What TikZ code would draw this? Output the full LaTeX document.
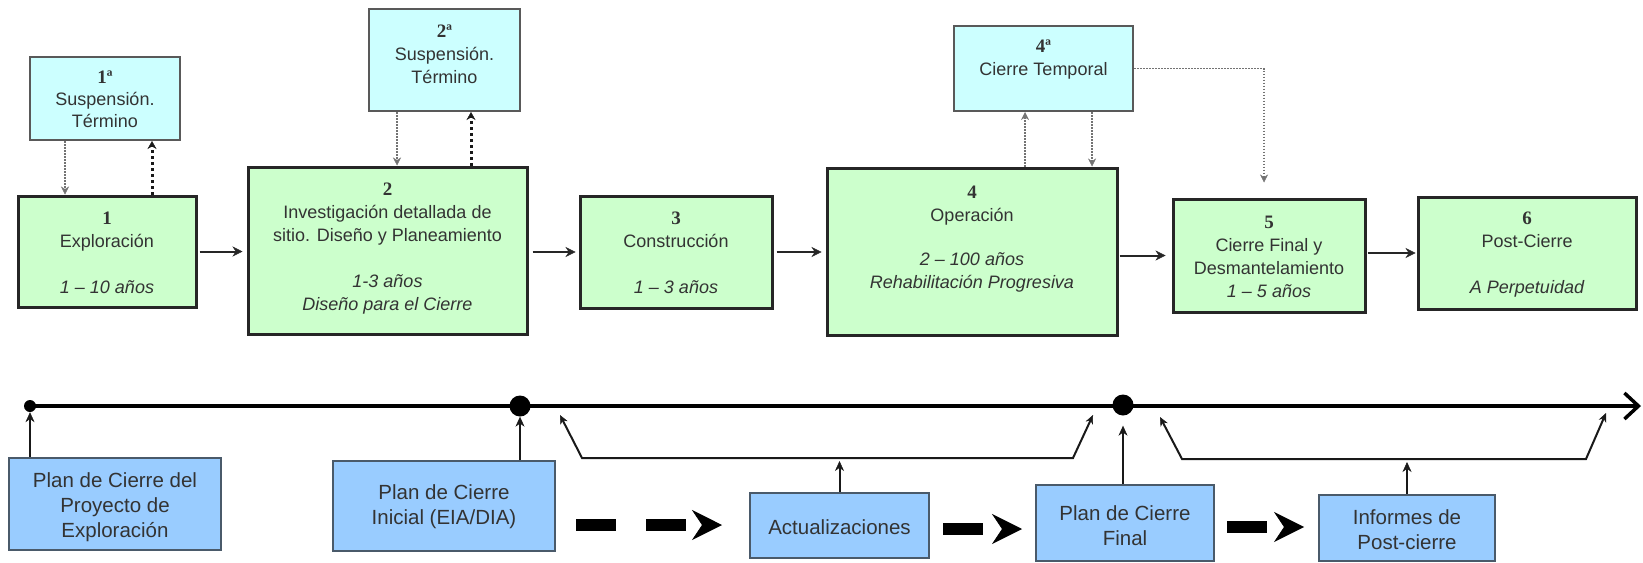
\documentclass[tikz,border=0pt]{standalone}
\usepackage{fontspec}
\setmainfont{Liberation Sans}
\newfontfamily\numfont{Liberation Serif}
\usetikzlibrary{arrows.meta}
\definecolor{gfill}{HTML}{CCFFCC}
\definecolor{cfill}{HTML}{CCFFFF}
\definecolor{bfill}{HTML}{99CCFF}
\definecolor{txtc}{HTML}{333333}
\definecolor{bdr}{HTML}{4A5A6A}
\newcommand\numlab[1]{{\numfont\bfseries\fontsize{19}{23}\selectfont #1}}
\begin{document}
\begin{tikzpicture}[x=1pt,y=-1pt,
  gbox/.style={draw=black!85,line width=3pt,fill=gfill,inner sep=0pt},
  cbox/.style={draw=black!65,line width=2pt,fill=cfill,inner sep=0pt},
  bbox/.style={draw=bdr,line width=2pt,fill=bfill,inner sep=0pt},
  ttop/.style={text=txtc,align=center,font=\fontsize{18}{23}\selectfont,inner sep=0pt},
  tbot/.style={text=txtc,align=center,font=\fontsize{20.5}{25}\selectfont,inner sep=0pt},
  arr/.style={line width=2pt,draw=black!85,-{Stealth[length=10pt,width=10pt,line width=0.5pt]}},
  dotthin/.style={line width=1.2pt,draw=black!55,dash pattern=on 1.5pt off 1.5pt,-{Stealth[length=8pt,width=8pt,line width=0.5pt]}},
  dotthick/.style={line width=3pt,draw=black!90,dash pattern=on 3pt off 3pt,-{Stealth[length=8pt,width=9pt,line width=0.5pt]}},
  uparr/.style={line width=2.5pt,draw=black!90,-{Stealth[length=10pt,width=9pt,line width=0.5pt]}},
  brk/.style={line width=2pt,draw=black!90},
  timeline/.style={line width=4pt,draw=black,-{Straight Barb[length=14pt,width=26pt,line width=3.5pt]}},
  bigd/.style={line width=12pt,draw=black,dash pattern=on 40pt off 30pt,-{Stealth[length=30pt,width=30pt,inset=10pt,line width=0.5pt]}},
  dotn/.style={circle,fill=black,inner sep=0pt}]
\useasboundingbox (0,0) rectangle (1643,562);

% top boxes
\node[cbox,minimum width=150pt,minimum height=83pt] (b1a) at (105,98.5) {};
\node[gbox,minimum width=178pt,minimum height=111pt] (b1) at (107,251.5) {};
\node[cbox,minimum width=151pt,minimum height=102pt] (b2a) at (444.5,60) {};
\node[gbox,minimum width=279pt,minimum height=167pt] (b2) at (387.5,250.5) {};
\node[gbox,minimum width=192pt,minimum height=112pt] (b3) at (676,252) {};
\node[gbox,minimum width=290pt,minimum height=167pt] (b4) at (972,251.5) {};
\node[cbox,minimum width=179pt,minimum height=85pt] (b4a) at (1043.5,68.5) {};
\node[gbox,minimum width=192pt,minimum height=113pt] (b5) at (1269,255.5) {};
\node[gbox,minimum width=218pt,minimum height=112pt] (b6) at (1527,253) {};

\node[ttop,font=\fontsize{18}{22}\selectfont] (b1at) at (105,99) {\numlab{1ª}\\Suspensión.\\Término};
\node[ttop] (b1t) at (107,253) {\numlab{1}\\Exploración\\[23pt]{\itshape 1 – 10 años}};
\node[ttop] (b2at) at (444.5,54) {\numlab{2ª}\\Suspensión.\\Término};
\node[ttop] (b2t) at (387.5,249) {\numlab{2}\\Investigación detallada de\\sitio. Diseño y Planeamiento\\[23pt]{\itshape 1-3 años}\\{\itshape Diseño para el Cierre}};
\node[ttop] (b3t) at (676,252.5) {\numlab{3}\\Construcción\\[23pt]{\itshape 1 – 3 años}};
\node[ttop] (b4t) at (972,239.5) {\numlab{4}\\Operación\\[21pt]{\itshape 2 – 100 años}\\{\itshape Rehabilitación Progresiva}};
\node[ttop] (b4at) at (1043.5,60) {\numlab{4ª}\\Cierre Temporal};
\node[ttop] (b5t) at (1269,257) {\numlab{5}\\Cierre Final y\\Desmantelamiento\\{\itshape 1 – 5 años}};
\node[ttop] (b6t) at (1527,255) {\numlab{6}\\Post-Cierre\\[23pt]{\itshape A Perpetuidad}};

% x positions of the vertical links
\coordinate (x65) at (65,0);
\coordinate (x152) at (152,0);
\coordinate (x397) at (397,0);
\coordinate (x471) at (471,0);
\coordinate (x1025) at (1025,0);
\coordinate (x1092) at (1092,0);
\coordinate (x1264) at (1264,0);

\draw[dotthin] (b1a.south -| x65) -- (b1.north -| x65);
\draw[dotthick] (b1.north -| x152) -- (b1a.south -| x152);
\draw[dotthin] (b2a.south -| x397) -- (b2.north -| x397);
\draw[dotthick] (b2.north -| x471) -- (b2a.south -| x471);
\draw[dotthin] (b4.north -| x1025) -- (b4a.south -| x1025);
\draw[dotthin] (b4a.south -| x1092) -- (b4.north -| x1092);
\draw[dotthin,shorten >=15pt] (b4a.east) -| (x1264 |- b5.north);

\draw[arr,shorten <=2pt,shorten >=4pt] (b1.east) -- (b1.east -| b2.west);
\draw[arr,shorten <=4pt,shorten >=3pt] (b2.east |- b3.west) -- (b3.west);
\draw[arr,shorten <=3pt,shorten >=4pt] (b3.east) -- (b3.east -| b4.west);
\draw[arr,shorten <=1pt,shorten >=6pt] (b4.east |- b5.west) -- (b5.west);
\draw[arr,shorten <=1pt,shorten >=1pt] (b5.east |- b6.west) -- (b6.west);

% timeline
\node[dotn,minimum size=12pt] (d0) at (30,406) {};
\node[dotn,minimum size=21pt] (d1) at (520,406) {};
\node[dotn,minimum size=21pt] (d2) at (1123,405) {};
\coordinate (tend) at (1641,406);
\draw[timeline] (d0.center) -- (tend);

% bottom boxes
\node[bbox,minimum width=212pt,minimum height=92pt] (p1) at (115,504) {};
\node[bbox,minimum width=222pt,minimum height=90pt] (p2) at (444,506) {};
\node[bbox,minimum width=179pt,minimum height=65pt] (act) at (839.5,525.5) {};
\node[bbox,minimum width=178pt,minimum height=76pt] (pf) at (1125,523) {};
\node[bbox,minimum width=176pt,minimum height=66pt] (inf) at (1407,528) {};

\node[tbot] (p1t) at (115,507) {Plan de Cierre del\\Proyecto de\\Exploración};
\node[tbot] (p2t) at (444,506.5) {Plan de Cierre\\Inicial (EIA/DIA)};
\node[tbot] (actt) at (839.5,527) {Actualizaciones};
\node[tbot] (pft) at (1125,526) {Plan de Cierre\\Final};
\node[tbot] (inft) at (1407,530) {Informes de\\Post-cierre};

\draw[uparr] (p1.north -| d0) -- (d0.south);
\draw[uparr] (p2.north -| d1) -- (d1.south);
\draw[uparr,shorten >=10pt] (pf.north -| d2) -- (d2.south);

% update brackets
\coordinate (k1a) at (560,415);
\coordinate (k1b) at (582,458);
\coordinate (k1c) at (1073,458);
\coordinate (k1d) at (1093,415);
\draw[brk,{Stealth[length=9pt,width=8pt,line width=0.5pt]}-{Stealth[length=9pt,width=8pt,line width=0.5pt]}] (k1a) -- (k1b) -- (k1c) -- (k1d);
\draw[uparr,line width=2pt,shorten >=3pt] (act.north) -- (act.north |- k1b);

\coordinate (k2a) at (1160,417);
\coordinate (k2b) at (1182,459);
\coordinate (k2c) at (1586,459);
\coordinate (k2d) at (1606,413);
\draw[brk,{Stealth[length=9pt,width=8pt,line width=0.5pt]}-{Stealth[length=9pt,width=8pt,line width=0.5pt]}] (k2a) -- (k2b) -- (k2c) -- (k2d);
\draw[uparr,line width=2pt,shorten >=3pt] (inf.north) -- (inf.north |- k2b);

% big dashed arrows
\coordinate (r1) at (0,525);
\coordinate (r2) at (0,529);
\coordinate (r3) at (0,527);
\draw[bigd,shorten <=20pt,shorten >=27pt] (p2.east |- r1) -- (act.west |- r1);
\draw[bigd,shorten <=13pt,shorten >=13pt] (act.east |- r2) -- (pf.west |- r2);
\draw[bigd,shorten <=12pt,shorten >=14pt] (pf.east |- r3) -- (inf.west |- r3);
\end{tikzpicture}
\end{document}
